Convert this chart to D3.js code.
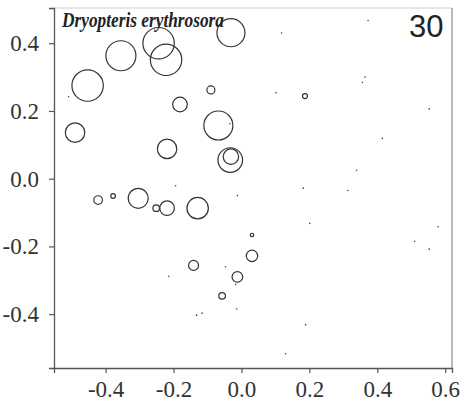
<!DOCTYPE html>
<html>
<head>
<meta charset="utf-8">
<script src="https://cdn.jsdelivr.net/npm/d3@7"></script>
<style>
  html, body { margin: 0; padding: 0; background: #fff; }
  svg { display: block; }
</style>
</head>
<body>
<svg id="chart" width="467" height="412"></svg>
<script>
// ---- data ----
const title = "Dryopteris erythrosora";
const panelLabel = "30";
const xTicks = [-0.4, -0.2, 0.0, 0.2, 0.4, 0.6];
const yTicks = [-0.4, -0.2, 0.0, 0.2, 0.4];
// circles: axis 1 score, axis 2 score, abundance
const circleX = [-0.453, -0.355, -0.244, -0.222, -0.031, -0.490, -0.181, -0.090, -0.068, -0.219, -0.033, -0.031, 0.187,
                 -0.422, -0.378, -0.304, -0.251, -0.219, -0.129, -0.141, -0.012, -0.057, 0.031, 0.031];
const circleY = [0.275, 0.363, 0.400, 0.351, 0.431, 0.136, 0.219, 0.262, 0.157, 0.088, 0.055, 0.065, 0.244,
                 -0.063, -0.051, -0.058, -0.087, -0.087, -0.087, -0.256, -0.290, -0.346, -0.166, -0.228];
const circleValue = [96.3, 87.9, 96.3, 96.3, 76.6, 36.8, 20.8, 6.25, 82.1, 36.8, 59.1, 23.2, 2.4,
                     7.2, 2.1, 39.0, 4.3, 20.8, 44.7, 9.8, 11.0, 4.3, 1.1, 12.7];
// zero-abundance plots (dots)
const dotX = [-0.509, -0.034, -0.194, -0.012, 0.373, 0.118, 0.364, 0.356, 0.102, 0.553, 0.415, 0.339, 0.182, 0.313,
              -0.047, -0.214, -0.017, -0.132, -0.116, -0.014, 0.201, 0.579, 0.510, 0.553, 0.189, 0.130];
const dotY = [0.242, 0.162, -0.021, -0.050, 0.467, 0.430, 0.300, 0.284, 0.254, 0.206, 0.119, 0.025, -0.028, -0.035,
              -0.260, -0.288, -0.312, -0.403, -0.397, -0.385, -0.132, -0.142, -0.185, -0.208, -0.431, -0.517];

// ---- layout ----
const svg = d3.select("#chart");
const L = 54, T = 8, R = 452, B = 368;
const x = d3.scaleLinear().domain([-0.552, 0.620]).range([L, R]);
const y = d3.scaleLinear().domain([-0.559, 0.504]).range([B, T]);
const r = d3.scaleSqrt().domain([0, 100]).range([0, 16]);
const serif = "'Liberation Serif', 'Times New Roman', Times, serif";

// frame top/right
svg.append("line").attr("x1", L).attr("x2", R).attr("y1", T).attr("y2", T)
  .attr("stroke", "#cfcfcf").attr("stroke-width", 1);
svg.append("line").attr("x1", R).attr("x2", R).attr("y1", T).attr("y2", B)
  .attr("stroke", "#777").attr("stroke-width", 1);

const fmt = d3.format(".1f");
const xAxis = svg.append("g").attr("transform", `translate(0,${B})`)
  .call(d3.axisBottom(x).tickValues(xTicks).tickFormat(d => fmt(d).replace("−", "-")).tickSize(5).tickPadding(8));
const yAxis = svg.append("g").attr("transform", `translate(${L},0)`)
  .call(d3.axisLeft(y).tickValues(yTicks).tickFormat(d => fmt(d).replace("−", "-")).tickSize(5).tickPadding(10));
[xAxis, yAxis].forEach(g => {
  g.attr("font-family", serif).attr("font-size", 23);
  g.select(".domain").attr("stroke", "#555").attr("stroke-width", 1.3);
  g.selectAll(".tick line").attr("stroke", "#555").attr("stroke-width", 1.2);
  g.selectAll("text").style("font-family", serif).style("font-size", "23px").attr("fill", "#333");
});

// dots
const dots = dotX.map((v, i) => ({ x: v, y: dotY[i] }));
svg.append("g").selectAll("circle").data(dots).enter().append("circle")
  .attr("cx", d => x(d.x)).attr("cy", d => y(d.y)).attr("r", 0.8)
  .attr("fill", "#444");

// circles
const circles = circleX.map((v, i) => ({ x: v, y: circleY[i], v: circleValue[i] }));
svg.append("g").selectAll("circle").data(circles).enter().append("circle")
  .attr("cx", d => x(d.x)).attr("cy", d => y(d.y)).attr("r", d => r(d.v))
  .attr("fill", "none").attr("stroke", "#333").attr("stroke-width", 1.2);

// title
svg.append("text").attr("x", 62).attr("y", 27)
  .style("font-family", serif)
  .attr("font-style", "italic").attr("font-weight", "bold").attr("font-size", 21)
  .attr("textLength", 162).attr("lengthAdjust", "spacingAndGlyphs")
  .attr("fill", "#222").text(title);

// panel label
svg.append("text").attr("x", 443.5).attr("y", 36.5).attr("text-anchor", "end")
  .attr("font-family", "'Liberation Sans', Arial, sans-serif").attr("font-size", 31)
  .attr("fill", "#222").text(panelLabel);
</script>
</body>
</html>
